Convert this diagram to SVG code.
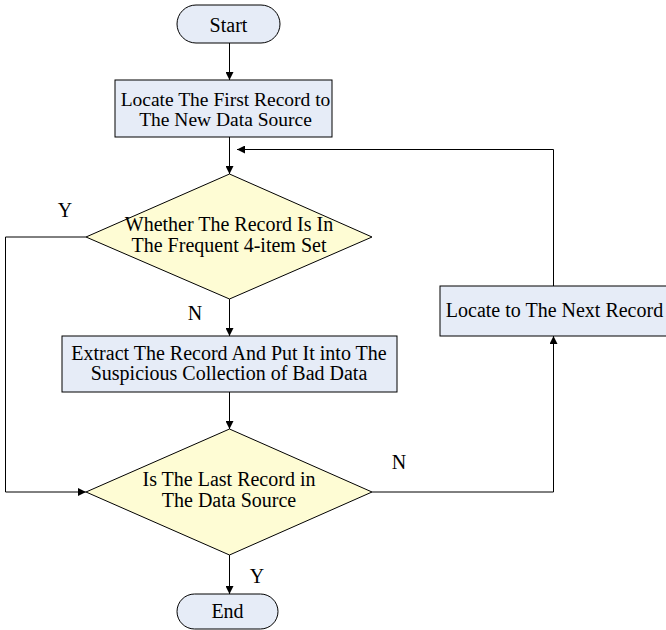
<svg xmlns="http://www.w3.org/2000/svg" width="666" height="630" viewBox="0 0 666 630">
<defs>
<style>
text{font-family:"Liberation Serif","Times New Roman",serif;font-size:20px;fill:#000;text-anchor:middle}
.sm{font-size:19.5px}
.box{fill:#e6ecf7;stroke:#000;stroke-width:1}
.dia{fill:#fefcd4;stroke:#000;stroke-width:1}
.ln{fill:none;stroke:#000;stroke-width:1}
</style>
<marker id="ah" viewBox="0 0 10 10" refX="10" refY="5" markerWidth="8" markerHeight="8" markerUnits="userSpaceOnUse" orient="auto">
<path d="M0,0 L10,5 L0,10 Z" fill="#000"/>
</marker>
</defs>
<rect width="666" height="630" fill="#fff"/>
<g id="connectors">
<line class="ln" x1="229.5" y1="43" x2="229.5" y2="80" marker-end="url(#ah)"/>
<line class="ln" x1="229.5" y1="137" x2="229.5" y2="174" marker-end="url(#ah)"/>
<line class="ln" x1="229.5" y1="299" x2="229.5" y2="336" marker-end="url(#ah)"/>
<line class="ln" x1="229.5" y1="392" x2="229.5" y2="429" marker-end="url(#ah)"/>
<line class="ln" x1="229.5" y1="555" x2="229.5" y2="594" marker-end="url(#ah)"/>
<polyline class="ln" points="86,237 5.5,237 5.5,492 86,492" marker-end="url(#ah)"/>
<polyline class="ln" points="372,492 553.5,492 553.5,336" marker-end="url(#ah)"/>
<polyline class="ln" points="553.5,286 553.5,149.5 237,149.5" marker-end="url(#ah)"/>
<text x="65" y="217">Y</text>
<text x="195" y="320">N</text>
<text x="399" y="469">N</text>
<text x="257" y="583">Y</text>
</g>
<g id="start">
<rect class="box" x="177" y="5" width="103" height="38" rx="19" ry="19"/>
<text x="228.5" y="32">Start</text>
</g>
<g id="locate-first">
<rect class="box" x="115" y="80" width="217" height="57"/>
<text class="sm" x="225.5" y="106">Locate The First Record to</text>
<text class="sm" x="225.5" y="126">The New Data Source</text>
</g>
<g id="decision-frequent">
<polygon class="dia" points="229.5,174 372,237 229.5,299 86,237"/>
<text x="229" y="231">Whether The Record Is In</text>
<text x="229" y="252">The Frequent 4-item Set</text>
</g>
<g id="extract">
<rect class="box" x="62" y="336" width="335" height="56"/>
<text x="229" y="360">Extract The Record And Put It into The</text>
<text x="229" y="380">Suspicious Collection of Bad Data</text>
</g>
<g id="decision-last">
<polygon class="dia" points="229.5,429 372,492 229.5,555 86,492"/>
<text x="229" y="486">Is The Last Record in</text>
<text x="229" y="507">The Data Source</text>
</g>
<g id="locate-next">
<rect class="box" x="440" y="286" width="240" height="50"/>
<text x="554.5" y="317">Locate to The Next Record</text>
</g>
<g id="end">
<rect class="box" x="177" y="594" width="101" height="35" rx="17.5" ry="17.5"/>
<text x="227.5" y="618">End</text>
</g>
</svg>
